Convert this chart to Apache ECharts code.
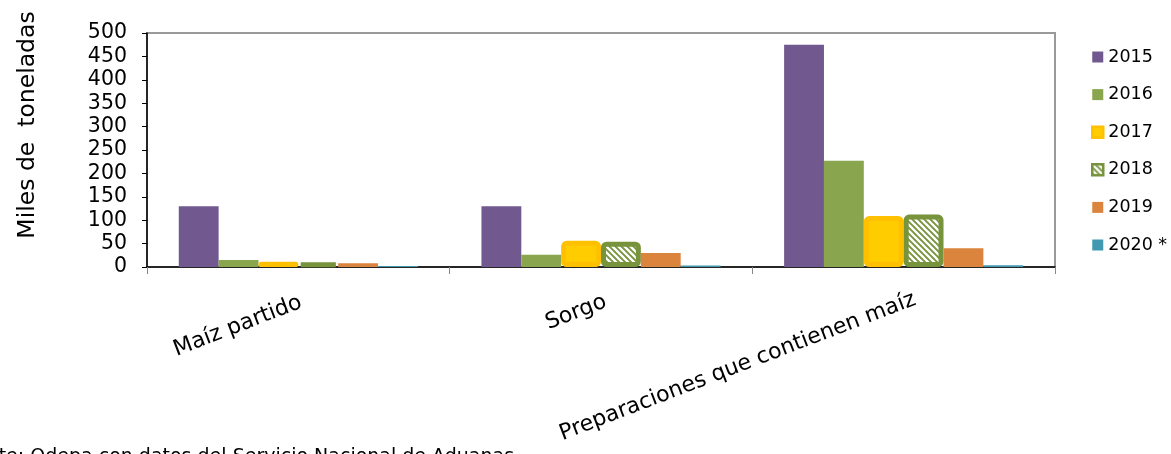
<!DOCTYPE html>
<html>
<head>
<meta charset="utf-8">
<script src="https://cdn.jsdelivr.net/npm/echarts@6/dist/echarts.min.js"></script>
<style>
html,body{margin:0;padding:0;background:#fff;}
#chart{width:1171px;height:454px;}
</style>
</head>
<body>
<div id="chart"></div>
<script>
const categories = ['Maíz partido', 'Sorgo', 'Preparaciones que contienen maíz'];
const seriesNames = ['2015', '2016', '2017', '2018', '2019', '2020 *'];
const v2015 = [130, 130, 475];
const v2016 = [15, 26, 227];
const v2017 = [11, 56, 109];
const v2018 = [10, 54, 112];
const v2019 = [8, 30, 40];
const v2020 = [2, 3, 4];
const yMin = 0, yMax = 500, yStep = 50;
const yTitle = 'Miles de  toneladas';
const footer = 'Fuente: Odepa con datos del Servicio Nacional de Aduanas.';

const FONT = '"DejaVu Sans", sans-serif';

function hatch() {
  const c = document.createElement('canvas');
  c.width = 6; c.height = 6;
  const g = c.getContext('2d');
  g.fillStyle = '#77933C';
  g.fillRect(0, 0, 6, 6);
  g.strokeStyle = '#ffffff';
  g.lineWidth = 2.3;
  g.beginPath();
  g.moveTo(-3, -3); g.lineTo(9, 9);
  g.moveTo(-3, 3); g.lineTo(3, 9);
  g.moveTo(3, -3); g.lineTo(9, 3);
  g.stroke();
  return c;
}

const values = [v2015, v2016, v2017, v2018, v2019, v2020];
const styles = [
  { color: '#71588F' },
  { color: '#89A54E' },
  { color: '#FFCC00', borderColor: '#FFC000', borderWidth: 5, borderRadius: 3 },
  { color: { image: hatch(), repeat: 'repeat' }, borderColor: '#77933C', borderWidth: 5, borderRadius: 3 },
  { color: '#DB843D' },
  { color: '#4198AF' }
];

const series = seriesNames.map((n, i) => ({
  name: n,
  type: 'bar',
  data: values[i],
  barGap: '0%',
  barCategoryGap: '21%',
  itemStyle: styles[i],
  emphasis: { disabled: true }
}));

const labelPad = [[0, -3, 0, 0], [0, -5, 0, 0], [0, -12, 0, 0]];

const chart = echarts.init(document.getElementById('chart'), null, { renderer: 'canvas' });
chart.setOption({
  animation: false,
  backgroundColor: '#ffffff',
  textStyle: { fontFamily: FONT },
  grid: { left: 147, right: 116, top: 33, bottom: 187, show: true, borderColor: '#999', borderWidth: 2 },
  legend: {
    orient: 'vertical',
    left: 1086,
    top: 42,
    itemWidth: 11,
    itemHeight: 11,
    itemGap: 17.6,
    icon: 'rect',
    data: seriesNames.map((n, i) => (i === 2 || i === 3) ? { name: n, itemStyle: { borderWidth: 2.5 } } : { name: n }),
    textStyle: { fontSize: 17.5, fontFamily: FONT, color: '#000', lineHeight: 20 }
  },
  xAxis: {
    type: 'category',
    data: categories.map((c, i) => ({ value: c, textStyle: { padding: labelPad[i] } })),
    axisLine: { lineStyle: { color: '#000', width: 1.5 } },
    axisTick: { show: true, alignWithLabel: false, length: 7, lineStyle: { color: '#888' } },
    axisLabel: { rotate: 21, fontSize: 22, margin: 36, color: '#000', interval: 0, fontFamily: FONT },
    splitLine: { show: false }
  },
  yAxis: {
    type: 'value',
    min: yMin,
    max: yMax,
    interval: yStep,
    axisLine: { show: true, lineStyle: { color: '#000', width: 1.5 } },
    axisTick: { show: true, length: 5, lineStyle: { color: '#000' } },
    axisLabel: { fontSize: 20.5, margin: 20, color: '#000', fontFamily: FONT },
    splitLine: { show: false }
  },
  graphic: [
    {
      type: 'text', x: 28, y: 125, rotation: Math.PI / 2,
      style: { text: yTitle, font: '23.5px ' + FONT, align: 'center', verticalAlign: 'middle', fill: '#000' }
    },
    {
      type: 'text', x: -47, y: 448,
      style: { text: footer, font: '19px ' + FONT, align: 'left', verticalAlign: 'top', fill: '#000' }
    }
  ],
  series: series
});
</script>
</body>
</html>
